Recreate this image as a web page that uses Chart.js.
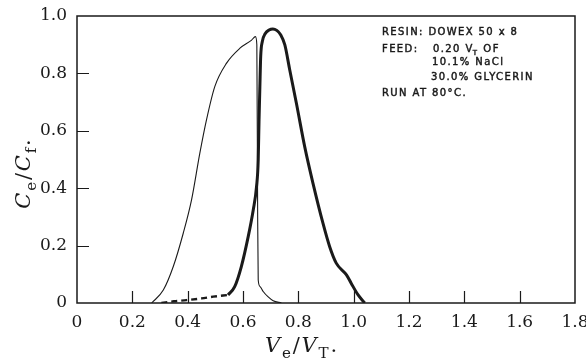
<!DOCTYPE html>
<html><head><meta charset="utf-8">
<script src="https://cdn.jsdelivr.net/npm/chart.js@4"></script>
<style>html,body{margin:0;padding:0;background:#fff}</style>
</head><body>
<canvas id="c" width="586" height="360"></canvas>
<script>
// ---- data ----
const xTicks = [0, 0.2, 0.4, 0.6, 0.8, 1.0, 1.2, 1.4, 1.6, 1.8];
const yTicks = [0, 0.2, 0.4, 0.6, 0.8, 1.0];

// thin curve
const thinX = [0.270, 0.312, 0.348, 0.384, 0.414, 0.444, 0.468, 0.498, 0.540, 0.588, 0.630, 0.645, 0.650, 0.653, 0.655, 0.662, 0.673, 0.690, 0.709, 0.739];
const thinY = [0.000, 0.045, 0.127, 0.243, 0.359, 0.522, 0.638, 0.754, 0.835, 0.887, 0.915, 0.928, 0.900, 0.300, 0.080, 0.057, 0.040, 0.022, 0.008, 0.000];

// thick curve, dashed lower part
const dashX = [0.305, 0.350, 0.396, 0.450, 0.492, 0.546];
const dashY = [0.000, 0.006, 0.010, 0.016, 0.022, 0.028];

// thick curve, solid part
const thickX = [0.546, 0.570, 0.594, 0.619, 0.637, 0.649, 0.655, 0.658, 0.661, 0.664, 0.670, 0.680, 0.694, 0.708, 0.722, 0.736, 0.751, 0.769, 0.793, 0.823, 0.853, 0.889, 0.913, 0.937, 0.974, 0.991, 1.016, 1.040];
const thickY = [0.028, 0.057, 0.127, 0.232, 0.324, 0.406, 0.498, 0.638, 0.754, 0.860, 0.912, 0.938, 0.951, 0.955, 0.950, 0.935, 0.900, 0.812, 0.696, 0.545, 0.417, 0.278, 0.197, 0.139, 0.098, 0.069, 0.028, 0.000];

const noteLines = ["RESIN: DOWEX 50 x 8", "FEED:", "10.1% NaCl", "30.0% GLYCERIN", "RUN AT 80°C."];

const pts = (xs, ys) => xs.map((x, i) => ({x: x, y: ys[i]}));
const fmt = v => (v === 0 ? '0' : Number(v).toFixed(1));
const INK = '#1a1a1a';
const SERIF = '"DejaVu Serif", "Liberation Serif", serif';

function drawRich(ctx, segs, cx, cy, size, rotate, gap) {
  ctx.save();
  ctx.translate(cx, cy);
  if (rotate) ctx.rotate(-Math.PI / 2);
  let w = 0;
  segs.forEach((s, i) => {
    ctx.font = (s.it ? 'italic ' : '') + (s.sub ? size * 0.72 : size) + 'px ' + SERIF;
    s.w = ctx.measureText(s.t).width + (i < segs.length - 1 ? gap : 0); w += s.w;
  });
  let x = -w / 2;
  ctx.fillStyle = INK; ctx.textBaseline = 'alphabetic'; ctx.textAlign = 'left';
  segs.forEach(s => {
    ctx.font = (s.it ? 'italic ' : '') + (s.sub ? size * 0.72 : size) + 'px ' + SERIF;
    ctx.fillText(s.t, x, s.sub ? size * 0.6 : size * 0.35);
    x += s.w;
  });
  ctx.restore();
}

function note(ctx, t, x, y) {
  ctx.fillText(t, x, y);
  ctx.strokeText(t, x, y);
  return ctx.measureText(t).width;
}

const deco = {
  id: 'deco',
  afterDraw(chart) {
    const {ctx, chartArea: a, scales: {x, y}} = chart;
    ctx.save();
    ctx.strokeStyle = INK; ctx.lineWidth = 1.5;
    ctx.strokeRect(a.left, a.top, a.right - a.left, a.bottom - a.top);
    ctx.lineWidth = 1.2;
    ctx.beginPath();
    xTicks.forEach(v => { if (v > 0 && v < 1.8) { const px = Math.round(x.getPixelForValue(v)) + 0.5; ctx.moveTo(px, a.bottom); ctx.lineTo(px, a.bottom - 12); } });
    yTicks.forEach(v => { if (v > 0 && v < 1.0) { const py = Math.round(y.getPixelForValue(v)) + 0.5; ctx.moveTo(a.left, py); ctx.lineTo(a.left + 12, py); } });
    ctx.stroke();

    // axis titles
    drawRich(ctx, [{t:'C', it:1}, {t:'e', sub:1}, {t:'/'}, {t:'C', it:1}, {t:'f', sub:1}, {t:'.'}], 23, 174, 21, true, 1.8);
    drawRich(ctx, [{t:'V', it:1}, {t:'e', sub:1}, {t:'/'}, {t:'V', it:1}, {t:'T', sub:1}, {t:'.'}], 301, 345, 21, false, 1.8);

    // annotation
    ctx.fillStyle = INK; ctx.strokeStyle = INK; ctx.lineWidth = 0.45;
    ctx.font = '10px "DejaVu Sans", sans-serif';
    ctx.textBaseline = 'middle'; ctx.textAlign = 'left';
    try { ctx.letterSpacing = '1.4px'; } catch (e) {}
    note(ctx, noteLines[0], 382, 32);
    note(ctx, noteLines[1], 382, 49);
    const wv = note(ctx, '0.20 V', 433, 49);
    ctx.font = '7px "DejaVu Sans", sans-serif';
    const wt = note(ctx, 'T', 433 + wv - 1, 53);
    ctx.font = '10px "DejaVu Sans", sans-serif';
    note(ctx, 'OF', 433 + wv + wt + 4, 49);
    note(ctx, noteLines[2], 432, 62);
    note(ctx, noteLines[3], 431, 77);
    note(ctx, noteLines[4], 382, 93);
    ctx.restore();
  }
};

new Chart(document.getElementById('c'), {
  type: 'line',
  data: {
    datasets: [
      {data: pts(thinX, thinY), borderColor: INK, borderWidth: 1.1, pointRadius: 0, cubicInterpolationMode: 'monotone', fill: false},
      {data: pts(dashX, dashY), borderColor: INK, borderWidth: 2.4, borderDash: [6, 4], pointRadius: 0, cubicInterpolationMode: 'monotone', fill: false},
      {data: pts(thickX, thickY), borderColor: INK, borderWidth: 3, pointRadius: 0, cubicInterpolationMode: 'monotone', fill: false}
    ]
  },
  options: {
    responsive: false, animation: false, devicePixelRatio: 1,
    layout: {padding: {left: 0, right: 11, top: 16, bottom: 0}},
    plugins: {legend: {display: false}, tooltip: {enabled: false}},
    scales: {
      x: {
        type: 'linear', min: 0, max: 1.8,
        afterBuildTicks: s => { s.ticks = xTicks.map(v => ({value: v})); },
        grid: {display: false, drawTicks: false}, border: {display: false},
        ticks: {font: {family: SERIF, size: 17}, color: INK, padding: 9, maxRotation: 0, autoSkip: false, callback: v => fmt(v)},
        afterFit: s => { s.height = 57; s.paddingLeft = 0; s.paddingRight = 0; }
      },
      y: {
        type: 'linear', min: 0, max: 1.0,
        afterBuildTicks: s => { s.ticks = yTicks.map(v => ({value: v})); },
        grid: {display: false, drawTicks: false}, border: {display: false},
        ticks: {font: {family: SERIF, size: 17}, color: INK, padding: 10, autoSkip: false, callback: v => fmt(v)},
        afterFit: s => { s.width = 77; s.paddingTop = 0; s.paddingBottom = 0; }
      }
    }
  },
  plugins: [deco]
});
</script>
</body></html>
